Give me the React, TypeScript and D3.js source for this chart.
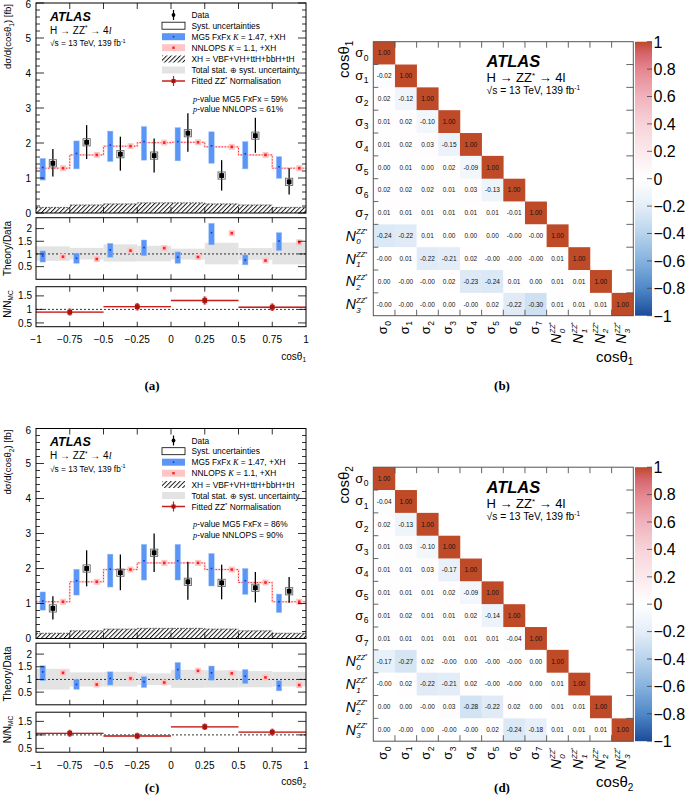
import React from 'react';
import * as d3 from 'd3';

const FONT = "'Liberation Sans', Arial, Helvetica, sans-serif";
const SERIF = "'Liberation Serif', 'Times New Roman', serif";

// ---------- shared axes ----------
const binEdges = [-1, -0.75, -0.5, -0.25, 0, 0.25, 0.5, 0.75, 1];
const xTickLabels = ['−1', '−0.75', '−0.5', '−0.25', '0', '0.25', '0.5', '0.75', '1'];
const nmcEdges = [-1, -0.5, 0, 0.5, 1];
const mainYTicks = [0, 1, 2, 3, 4, 5, 6];
const ratioYTicks = [0.5, 1, 1.5, 2];
const ratioYLabels = ['0.5', '1', '1.5', '2'];
const nmcYTicks = [0.5, 1, 1.5];
const nmcYLabels = ['0.5', '1', '1.5'];

// ---------- panel (a) : cos theta_1 ----------
const aData = [1.42, 2.02, 1.68, 1.64, 2.28, 1.07, 2.21, 0.89];
const aDataLo = [1.04, 1.54, 1.21, 1.16, 1.75, 0.64, 1.72, 0.53];
const aDataHi = [1.83, 2.51, 2.18, 2.13, 2.85, 1.51, 2.72, 1.28];
const aMg5 = [1.30, 1.70, 1.94, 2.04, 2.04, 1.92, 1.69, 1.32];
const aMg5Lo = [0.94, 1.26, 1.47, 1.51, 1.49, 1.42, 1.26, 0.99];
const aMg5Hi = [1.56, 2.06, 2.34, 2.47, 2.44, 2.32, 2.04, 1.61];
const aNnlops = [1.28, 1.66, 1.91, 2.01, 2.02, 1.89, 1.66, 1.28];
const aXH = [0.16, 0.23, 0.26, 0.29, 0.29, 0.26, 0.23, 0.16];
const aBandLo = [0.73, 0.78, 0.70, 0.71, 0.78, 0.59, 0.77, 0.59];
const aBandHi = [1.30, 1.24, 1.38, 1.32, 1.21, 1.44, 1.23, 1.45];
const aRMg5 = [0.92, 0.83, 1.16, 1.25, 0.87, 1.84, 0.76, 1.51];
const aRMg5Lo = [0.68, 0.63, 0.87, 0.93, 0.63, 1.36, 0.57, 1.13];
const aRMg5Hi = [1.12, 1.03, 1.42, 1.55, 1.08, 2.21, 0.96, 1.84];
const aRNnlops = [0.89, 0.80, 1.13, 1.23, 0.88, 1.82, 0.74, 1.46];
const aNmc = [0.90, 1.10, 1.33, 1.08];
const aNmcErr = [0.13, 0.14, 0.15, 0.14];

// ---------- panel (c) : cos theta_2 ----------
const cData = [0.86, 2.00, 1.88, 2.45, 1.62, 1.59, 1.45, 1.35];
const cDataLo = [0.54, 1.49, 1.38, 1.90, 1.11, 1.12, 1.03, 1.02];
const cDataHi = [1.21, 2.52, 2.40, 3.00, 2.19, 2.11, 1.90, 1.76];
const cMg5 = [1.07, 1.65, 1.98, 2.22, 2.22, 2.00, 1.65, 1.05];
const cMg5Lo = [0.81, 1.24, 1.47, 1.67, 1.67, 1.50, 1.26, 0.74];
const cMg5Hi = [1.33, 1.98, 2.41, 2.69, 2.69, 2.43, 2.00, 1.27];
const cNnlops = [1.05, 1.62, 1.97, 2.16, 2.16, 1.97, 1.60, 1.05];
const cXH = [0.15, 0.22, 0.27, 0.29, 0.29, 0.27, 0.22, 0.15];
const cBandLo = [0.60, 0.72, 0.72, 0.78, 0.67, 0.68, 0.69, 0.72];
const cBandHi = [1.42, 1.28, 1.30, 1.24, 1.38, 1.36, 1.33, 1.30];
const cRMg5 = [1.30, 0.80, 1.04, 0.91, 1.39, 1.26, 1.13, 0.75];
const cRMg5Lo = [0.95, 0.61, 0.78, 0.68, 1.01, 0.97, 0.84, 0.55];
const cRMg5Hi = [1.54, 1.00, 1.30, 1.11, 1.67, 1.53, 1.39, 0.95];
const cRNnlops = [1.26, 0.80, 1.04, 0.88, 1.34, 1.24, 1.08, 0.78];
const cNmc = [1.06, 0.96, 1.30, 1.10];
const cNmcErr = [0.13, 0.12, 0.12, 0.13];

// ---------- correlation matrices ----------
const params = ['σ0', 'σ1', 'σ2', 'σ3', 'σ4', 'σ5', 'σ6', 'σ7', 'N0', 'N1', 'N2', 'N3'];
const corrB = [
  [1.0],
  [-0.02, 1.0],
  [0.02, -0.12, 1.0],
  [0.01, 0.02, -0.10, 1.0],
  [0.01, 0.02, 0.03, -0.15, 1.0],
  [0.0, 0.01, 0.0, 0.02, -0.09, 1.0],
  [0.02, 0.02, 0.02, 0.01, 0.03, -0.13, 1.0],
  [0.01, 0.01, 0.01, 0.01, 0.01, 0.01, -0.01, 1.0],
  [-0.24, -0.22, 0.01, 0.0, 0.0, 0.0, -0, -0, 1.0],
  [-0, 0.01, -0.22, -0.21, 0.02, -0, -0, -0, 0.01, 1.0],
  [0.0, -0, -0, 0.02, -0.23, -0.24, 0.01, 0.0, 0.01, 0.01, 1.0],
  [-0, -0, -0, 0.0, -0, 0.02, -0.22, -0.30, 0.01, 0.01, 0.01, 1.0],
];
const corrD = [
  [1.0],
  [-0.04, 1.0],
  [0.02, -0.13, 1.0],
  [0.01, 0.03, -0.10, 1.0],
  [0.01, 0.01, 0.03, -0.17, 1.0],
  [0.01, 0.01, 0.01, 0.02, -0.09, 1.0],
  [0.01, 0.02, 0.01, 0.01, 0.02, -0.14, 1.0],
  [0.01, 0.01, 0.01, 0.01, 0.01, 0.01, -0.04, 1.0],
  [-0.17, -0.27, 0.02, -0, 0.0, -0, -0, 0.0, 1.0],
  [-0, 0.02, -0.22, -0.21, 0.02, -0, -0, 0.0, 0.01, 1.0],
  [0.0, 0.0, -0, 0.03, -0.28, -0.22, 0.02, 0.0, 0.01, 0.01, 1.0],
  [0.0, -0, 0.0, -0, -0, 0.02, -0.24, -0.18, 0.01, 0.01, 0.01, 1.0],
];
const colorStops = [-1, -0.8, -0.6, -0.4, -0.2, 0, 0.2, 0.4, 0.6, 0.8, 0.92, 1];
const colorValues = ['#1c4b9a', '#4f88c8', '#86b2de', '#b8d3ec', '#e4eef8', '#ffffff', '#fbe9ec', '#f7d3d9', '#f0b2bc', '#e5868f', '#d4636a', '#bf4a27'];
const colorbarTicks = [1, 0.8, 0.6, 0.4, 0.2, 0, -0.2, -0.4, -0.6, -0.8, -1];

const BLUE = '#5b95f5';
const BLUE_DOT = '#1535d0';
const PINK = '#ffc4c4';
const RED = '#ff2020';
const DRED = '#c41f1a';

function DistPanel(p: any) {
  const { oy, sub, pMg5, pNnlops } = p;
  const x = d3.scaleLinear().domain([-1, 1]).range([36, 306]);
  const yM = d3.scaleLinear().domain([0, 6]).range([oy + 213, oy + 3]);
  const yR = d3.scaleLinear().domain([0, 2.43]).range([oy + 279.3, oy + 217.7]);
  const yN = d3.scaleLinear().domain([0.36, 1.84]).range([oy + 326.7, oy + 286.7]);
  const bins = d3.range(8);
  const xl = (i: number) => x(binEdges[i]);
  const xr = (i: number) => x(binEdges[i + 1]);
  const xMg = (i: number) => x(binEdges[i] + 0.05);
  const xDa = (i: number) => x((binEdges[i] + binEdges[i + 1]) / 2);
  const xNn = (i: number) => x(binEdges[i] + 0.2);
  const stepPts: [number, number][] = bins.map((i) => [binEdges[i], p.nnlops[i]] as [number, number]).concat([[1, p.nnlops[7]]]);
  const step = d3.line<[number, number]>().x((d) => x(d[0])).y((d) => yM(d[1])).curve(d3.curveStepAfter);
  const L = 36, R = 306;

  const yTicksLR = (vals: number[], scale: any, len: number, key: string) =>
    vals.map((v, i) => (
      <g key={key + i} stroke="#000" strokeWidth={0.8}>
        <line x1={L} x2={L + len} y1={scale(v)} y2={scale(v)} />
        <line x1={R} x2={R - len} y1={scale(v)} y2={scale(v)} />
      </g>
    ));
  const xTicksTB = (top: number, bottom: number, len: number, key: string) =>
    binEdges.slice(1, -1).map((v, i) => (
      <g key={key + i} stroke="#000" strokeWidth={0.8}>
        <line x1={x(v)} x2={x(v)} y1={bottom} y2={bottom - len} />
        <line x1={x(v)} x2={x(v)} y1={top} y2={top + len} />
      </g>
    ));
  const minorMain = d3.range(0, 30).map((k) => k * 0.2).filter((v) => Math.abs(v - Math.round(v)) > 1e-6);
  const rowY = [15, 25.7, 36.7, 47.7, 59, 70, 81].map((v) => v + oy);
  const symX = 162, symW = 23, txtX = 191.5;

  return (
    <g fontFamily={FONT}>
      {/* ================= main pad ================= */}
      {bins.map((i) => (
        <rect key={'xh' + i} x={xl(i)} width={xr(i) - xl(i)} y={yM(p.xh[i])} height={yM(0) - yM(p.xh[i])} fill="url(#hatch)" />
      ))}
      {bins.map((i) => (
        <line key={'xht' + i} x1={xl(i)} x2={xr(i)} y1={yM(p.xh[i])} y2={yM(p.xh[i])} stroke="#333" strokeWidth={0.7} strokeDasharray="2,1" />
      ))}
      <path d={step(stepPts) || ''} fill="none" stroke="#ffdada" strokeWidth={2} />
      <path d={step(stepPts) || ''} fill="none" stroke={RED} strokeWidth={0.9} strokeDasharray="1.5,1.5" />
      {bins.map((i) => (
        <g key={'mg' + i}>
          <rect x={xMg(i) - 2.7} width={5.4} y={yM(p.mg5Hi[i])} height={yM(p.mg5Lo[i]) - yM(p.mg5Hi[i])} fill={BLUE} stroke="#9cc0fa" strokeWidth={0.5} />
          <rect x={xMg(i) - 0.8} width={1.6} y={yM(p.mg5[i]) - 0.8} height={1.6} fill={BLUE_DOT} />
        </g>
      ))}
      {bins.map((i) => (
        <g key={'nn' + i}>
          <rect x={xNn(i) - 3} width={6} y={yM(p.nnlops[i]) - 3} height={6} fill={PINK} />
          <rect x={xNn(i) - 1.3} width={2.6} y={yM(p.nnlops[i]) - 1.3} height={2.6} fill={RED} />
        </g>
      ))}
      {bins.map((i) => (
        <g key={'da' + i}>
          <line x1={xDa(i)} x2={xDa(i)} y1={yM(p.dataHi[i])} y2={yM(p.dataLo[i])} stroke="#000" strokeWidth={1.3} />
          <rect x={xDa(i) - 3.6} y={yM(p.data[i]) - 3.6} width={7.2} height={7.2} fill="none" stroke="#666" strokeWidth={0.9} />
          <rect x={xDa(i) - 2.4} y={yM(p.data[i]) - 2.4} width={4.8} height={4.8} fill="#000" />
        </g>
      ))}
      <rect x={L} y={oy + 3} width={R - L} height={210} fill="none" stroke="#000" strokeWidth={1} />
      {yTicksLR(mainYTicks, yM, 8, 'my')}
      {yTicksLR(minorMain, yM, 4, 'mmy')}
      {xTicksTB(oy + 3, oy + 213, 6, 'mx')}
      {mainYTicks.map((v) => (
        <text key={'myl' + v} x={31} y={Math.max(yM(v) + 3.6, oy + 8)} fontSize={10} textAnchor="end">{v}</text>
      ))}
      <text transform={`translate(11,${oy + 4}) rotate(-90)`} fontSize={9.5} textAnchor="end">
        dσ/d(cosθ<tspan dy={2.5} fontSize={6.5}>{sub}</tspan><tspan dy={-2.5}>) [fb]</tspan>
      </text>

      {/* texts */}
      <text x={50} y={oy + 20.7} fontSize={12.5} fontWeight="bold" fontStyle="italic">ATLAS</text>
      <text x={50} y={oy + 33.5} fontSize={10}>
        H → ZZ<tspan dy={-3.5} fontSize={6.5}>*</tspan><tspan dy={3.5}> → 4</tspan><tspan fontStyle="italic" fontFamily={SERIF}>l</tspan>
      </text>
      <text x={50} y={oy + 46} fontSize={8.3}>
        √s = 13 TeV, 139 fb<tspan dy={-3.5} fontSize={5.5}>-1</tspan>
      </text>

      {/* legend */}
      <g fontSize={8.4}>
        <line x1={symX + symW / 2} x2={symX + symW / 2} y1={rowY[0] - 5} y2={rowY[0] + 5} stroke="#000" strokeWidth={1.2} />
        <circle cx={symX + symW / 2} cy={rowY[0]} r={1.9} fill="#000" />
        <text x={txtX} y={rowY[0] + 3}>Data</text>
        <rect x={symX} y={rowY[1] - 3.5} width={symW} height={7} fill="none" stroke="#000" strokeWidth={0.8} />
        <text x={txtX} y={rowY[1] + 3}>Syst. uncertainties</text>
        <rect x={symX} y={rowY[2] - 3.5} width={symW} height={7} fill={BLUE} />
        <rect x={symX + symW / 2 - 0.8} y={rowY[2] - 0.8} width={1.6} height={1.6} fill={BLUE_DOT} />
        <text x={txtX} y={rowY[2] + 3}>MG5 FxFx <tspan fontStyle="italic" fontFamily={SERIF}>K</tspan> = 1.47, +XH</text>
        <rect x={symX} y={rowY[3] - 3.5} width={symW} height={7} fill={PINK} />
        <rect x={symX + symW / 2 - 1.2} y={rowY[3] - 1.2} width={2.4} height={2.4} fill={RED} />
        <text x={txtX} y={rowY[3] + 3}>NNLOPS <tspan fontStyle="italic" fontFamily={SERIF}>K</tspan> = 1.1, +XH</text>
        <rect x={symX} y={rowY[4] - 3.5} width={symW} height={7} fill="url(#hatch)" />
        <text x={txtX} y={rowY[4] + 3}>XH = VBF+VH+ttH+bbH+tH</text>
        <rect x={symX} y={rowY[5] - 3.5} width={symW} height={7} fill="#e3e3e3" />
        <text x={txtX} y={rowY[5] + 3}>Total stat. ⊕ syst. uncertainty</text>
        <line x1={symX} x2={symX + symW} y1={rowY[6]} y2={rowY[6]} stroke={DRED} strokeWidth={1.5} />
        <line x1={symX + symW / 2} x2={symX + symW / 2} y1={rowY[6] - 5} y2={rowY[6] + 5} stroke={DRED} strokeWidth={1.2} />
        <rect x={symX + symW / 2 - 2} y={rowY[6] - 2} width={4} height={4} fill="#a8150f" />
        <text x={txtX} y={rowY[6] + 3}>Fitted ZZ<tspan dy={-3} fontSize={6}>*</tspan><tspan dy={3}> Normalisation</tspan></text>
        <text x={193} y={oy + 101.5}><tspan fontStyle="italic" fontFamily={SERIF}>p</tspan>-value MG5 FxFx = {pMg5}</text>
        <text x={193} y={oy + 112}><tspan fontStyle="italic" fontFamily={SERIF}>p</tspan>-value NNLOPS = {pNnlops}</text>
      </g>

      {/* ================= ratio pad ================= */}
      {bins.map((i) => (
        <rect key={'bd' + i} x={xl(i)} width={xr(i) - xl(i)} y={yR(p.bandHi[i])} height={yR(p.bandLo[i]) - yR(p.bandHi[i])} fill="#e3e3e3" />
      ))}
      <line x1={L} x2={R} y1={yR(1)} y2={yR(1)} stroke="#000" strokeWidth={0.8} strokeDasharray="2,2" />
      {bins.map((i) => (
        <g key={'rmg' + i}>
          <rect x={xMg(i) - 2.7} width={5.4} y={yR(p.rMg5Hi[i])} height={yR(p.rMg5Lo[i]) - yR(p.rMg5Hi[i])} fill={BLUE} stroke="#9cc0fa" strokeWidth={0.5} />
          <rect x={xMg(i) - 0.8} width={1.6} y={yR(p.rMg5[i]) - 0.8} height={1.6} fill={BLUE_DOT} />
        </g>
      ))}
      {bins.map((i) => (
        <g key={'rnn' + i}>
          <rect x={xNn(i) - 3} width={6} y={yR(p.rNnlops[i]) - 3} height={6} fill={PINK} />
          <rect x={xNn(i) - 1.3} width={2.6} y={yR(p.rNnlops[i]) - 1.3} height={2.6} fill={RED} />
        </g>
      ))}
      <rect x={L} y={oy + 217.7} width={R - L} height={61.6} fill="none" stroke="#000" strokeWidth={1} />
      {yTicksLR(ratioYTicks, yR, 8, 'ry')}
      {xTicksTB(oy + 217.7, oy + 279.3, 5, 'rx')}
      {ratioYTicks.map((v, i) => (
        <text key={'ryl' + i} x={32} y={yR(v) + 3.6} fontSize={10} textAnchor="end">{ratioYLabels[i]}</text>
      ))}
      <text transform={`translate(10.5,${oy + 248.5}) rotate(-90)`} fontSize={10} textAnchor="middle">Theory/Data</text>

      {/* ================= N/N_MC pad ================= */}
      <line x1={L} x2={R} y1={yN(1)} y2={yN(1)} stroke="#000" strokeWidth={0.8} strokeDasharray="2,2" />
      {p.nmc.map((v: number, i: number) => {
        const a = x(nmcEdges[i]), b = x(nmcEdges[i + 1]), c = (a + b) / 2;
        return (
          <g key={'nmc' + i}>
            <rect x={a} width={b - a} y={yN(v + 0.02)} height={yN(v - 0.02) - yN(v + 0.02)} fill="#eaa0a0" />
            <line x1={a} x2={b} y1={yN(v)} y2={yN(v)} stroke={DRED} strokeWidth={1.3} />
            <rect x={c - 1.8} width={3.6} y={yN(v + p.nmcErr[i])} height={yN(v - p.nmcErr[i]) - yN(v + p.nmcErr[i])} fill="#eaa0a0" />
            <line x1={c} x2={c} y1={yN(v + p.nmcErr[i])} y2={yN(v - p.nmcErr[i])} stroke={DRED} strokeWidth={1.2} />
            <rect x={c - 2.4} y={yN(v) - 2.4} width={4.8} height={4.8} fill="#a8150f" />
          </g>
        );
      })}
      <rect x={L} y={oy + 286.7} width={R - L} height={40} fill="none" stroke="#000" strokeWidth={1} />
      {yTicksLR(nmcYTicks, yN, 8, 'ny')}
      {xTicksTB(oy + 286.7, oy + 326.7, 5, 'nx')}
      {nmcYTicks.map((v, i) => (
        <text key={'nyl' + i} x={32} y={yN(v) + 3.6} fontSize={10} textAnchor="end">{nmcYLabels[i]}</text>
      ))}
      <text transform={`translate(10.5,${oy + 304}) rotate(-90)`} fontSize={10} textAnchor="middle">
        N/N<tspan dy={2.5} fontSize={6.5}>MC</tspan>
      </text>
      {binEdges.map((v, i) => (
        <text key={'xl' + i} x={x(v)} y={oy + 343} fontSize={10} textAnchor="middle">{xTickLabels[i]}</text>
      ))}
      <text x={306} y={oy + 359.5} fontSize={10} textAnchor="end">
        cosθ<tspan dy={2.5} fontSize={6.5}>{sub}</tspan>
      </text>
    </g>
  );
}

function ParamLabel({ p }: { p: string }) {
  const kind = p[0];
  const idx = p.slice(1);
  if (kind === 'σ') {
    return (
      <g>
        <text x={-9.5} y={4} fontSize={13} textAnchor="end">σ</text>
        <text x={-9} y={7.5} fontSize={8.5}>{idx}</text>
      </g>
    );
  }
  return (
    <g fontStyle="italic">
      <text x={-17} y={5} fontSize={14} textAnchor="end">N</text>
      <text x={-16.5} y={-1.5} fontSize={7.2}>ZZ<tspan dy={-1.5} fontSize={5.5}>*</tspan></text>
      <text x={-16.5} y={8.5} fontSize={8}>{idx}</text>
    </g>
  );
}

const fmtCell = (v: number) => (v < 0 || Object.is(v, -0) ? '-' : '') + Math.abs(v).toFixed(2);

function Matrix({ oy, corr, sub }: { oy: number; corr: number[][]; sub: string }) {
  const n = params.length;
  const x0 = 373.3, x1 = 633.3, y0 = oy + 41.7, y1 = oy + 315.7;
  const xs = d3.scaleBand<number>().domain(d3.range(n)).range([x0, x1]);
  const ys = d3.scaleBand<number>().domain(d3.range(n)).range([y0, y1]);
  const color = d3.scaleLinear<string>().domain(colorStops).range(colorValues).interpolate(d3.interpolateRgb).clamp(true);
  const cb = d3.scaleLinear().domain([-1, 1]).range([y1, y0]);
  const fmtCb = d3.format('.1~f');
  const bw = xs.bandwidth(), bh = ys.bandwidth();
  const cells: any[] = [];
  corr.forEach((row, r) =>
    row.forEach((v, c) => {
      cells.push(
        <g key={`c${r}-${c}`}>
          <rect x={xs(c)} y={ys(r)} width={bw + 0.3} height={bh + 0.3} fill={color(v)} />
          <text x={(xs(c) as number) + bw / 2} y={(ys(r) as number) + bh / 2 + 2.3} fontSize={6.5} textAnchor="middle" fill="#111">{fmtCell(v)}</text>
        </g>
      );
    })
  );
  const bounds = d3.range(1, n);
  return (
    <g fontFamily={FONT}>
      {cells}
      <rect x={x0} y={y0} width={x1 - x0} height={y1 - y0} fill="none" stroke="#555" strokeWidth={1} />
      {bounds.map((k) => (
        <g key={'t' + k} stroke="#555" strokeWidth={0.9}>
          <line x1={xs(k)} x2={xs(k)} y1={y0} y2={y0 + 6} />
          <line x1={xs(k)} x2={xs(k)} y1={y1} y2={y1 - 6} />
          <line x1={x0} x2={x0 + 5} y1={ys(k)} y2={ys(k)} />
          <line x1={x1} x2={x1 - 7} y1={ys(k)} y2={ys(k)} />
        </g>
      ))}
      {params.map((p, i) => (
        <g key={'rl' + i} transform={`translate(${x0 - 0.5},${(ys(i) as number) + bh / 2})`}>
          <ParamLabel p={p} />
        </g>
      ))}
      {params.map((p, i) => (
        <g key={'cl' + i} transform={`translate(${(xs(i) as number) + bw / 2 - 1},${y1 + 1}) rotate(-90)`}>
          <ParamLabel p={p} />
        </g>
      ))}
      {/* colorbar */}
      <rect x={635} y={y0} width={17} height={y1 - y0} fill="url(#cbgrad)" />
      {colorbarTicks.map((v) => (
        <g key={'cb' + v}>
          <line x1={652} x2={647} y1={cb(v)} y2={cb(v)} stroke="#444" strokeWidth={0.8} />
          <text x={653.5} y={cb(v) + 5.8} fontSize={16}>{fmtCb(v)}</text>
        </g>
      ))}
      {/* annotations */}
      <text x={486.5} y={oy + 67} fontSize={16.5} fontWeight="bold" fontStyle="italic">ATLAS</text>
      <text x={486.5} y={oy + 82} fontSize={13}>
        H → ZZ<tspan dy={-4} fontSize={8}>*</tspan><tspan dy={4}> → 4l</tspan>
      </text>
      <text x={486.5} y={oy + 94} fontSize={10.3}>
        √s = 13 TeV, 139 fb<tspan dy={-4} fontSize={6.5}>-1</tspan>
      </text>
      <text transform={`translate(349,${y0 - 1}) rotate(-90)`} fontSize={15} textAnchor="end">
        cosθ<tspan dy={3.5} fontSize={10}>{sub}</tspan>
      </text>
      <text x={x1} y={y1 + 46} fontSize={15} textAnchor="end">
        cosθ<tspan dy={3.5} fontSize={10}>{sub}</tspan>
      </text>
    </g>
  );
}

export default function App() {
  const gradStops = colorStops.map((v, i) => ({ off: (1 - v) / 2, col: colorValues[i] })).sort((a, b) => a.off - b.off);
  return (
    <svg width={685} height={806} style={{ position: 'absolute', left: 0, top: 0, background: '#fff' }} fontFamily={FONT}>
      <defs>
        <pattern id="hatch" patternUnits="userSpaceOnUse" width={3.2} height={3.2} patternTransform="rotate(45)">
          <line x1={0.5} y1={0} x2={0.5} y2={3.2} stroke="#000" strokeWidth={0.9} />
        </pattern>
        <linearGradient id="cbgrad" x1="0" y1="0" x2="0" y2="1">
          {gradStops.map((s, i) => (
            <stop key={i} offset={s.off} stopColor={s.col} />
          ))}
        </linearGradient>
      </defs>
      <rect x={0} y={0} width={685} height={806} fill="#fff" />
      <DistPanel
        oy={0} sub="1" pMg5="59%" pNnlops="61%"
        data={aData} dataLo={aDataLo} dataHi={aDataHi}
        mg5={aMg5} mg5Lo={aMg5Lo} mg5Hi={aMg5Hi} nnlops={aNnlops} xh={aXH}
        bandLo={aBandLo} bandHi={aBandHi}
        rMg5={aRMg5} rMg5Lo={aRMg5Lo} rMg5Hi={aRMg5Hi} rNnlops={aRNnlops}
        nmc={aNmc} nmcErr={aNmcErr}
      />
      <DistPanel
        oy={425.5} sub="2" pMg5="86%" pNnlops="90%"
        data={cData} dataLo={cDataLo} dataHi={cDataHi}
        mg5={cMg5} mg5Lo={cMg5Lo} mg5Hi={cMg5Hi} nnlops={cNnlops} xh={cXH}
        bandLo={cBandLo} bandHi={cBandHi}
        rMg5={cRMg5} rMg5Lo={cRMg5Lo} rMg5Hi={cRMg5Hi} rNnlops={cRNnlops}
        nmc={cNmc} nmcErr={cNmcErr}
      />
      <Matrix oy={0} corr={corrB} sub="1" />
      <Matrix oy={425.5} corr={corrD} sub="2" />
      <g fontFamily={SERIF} fontWeight="bold" fontSize={13} textAnchor="middle">
        <text x={152} y={390}>(a)</text>
        <text x={502} y={390}>(b)</text>
        <text x={152} y={792}>(c)</text>
        <text x={502} y={792}>(d)</text>
      </g>
    </svg>
  );
}
